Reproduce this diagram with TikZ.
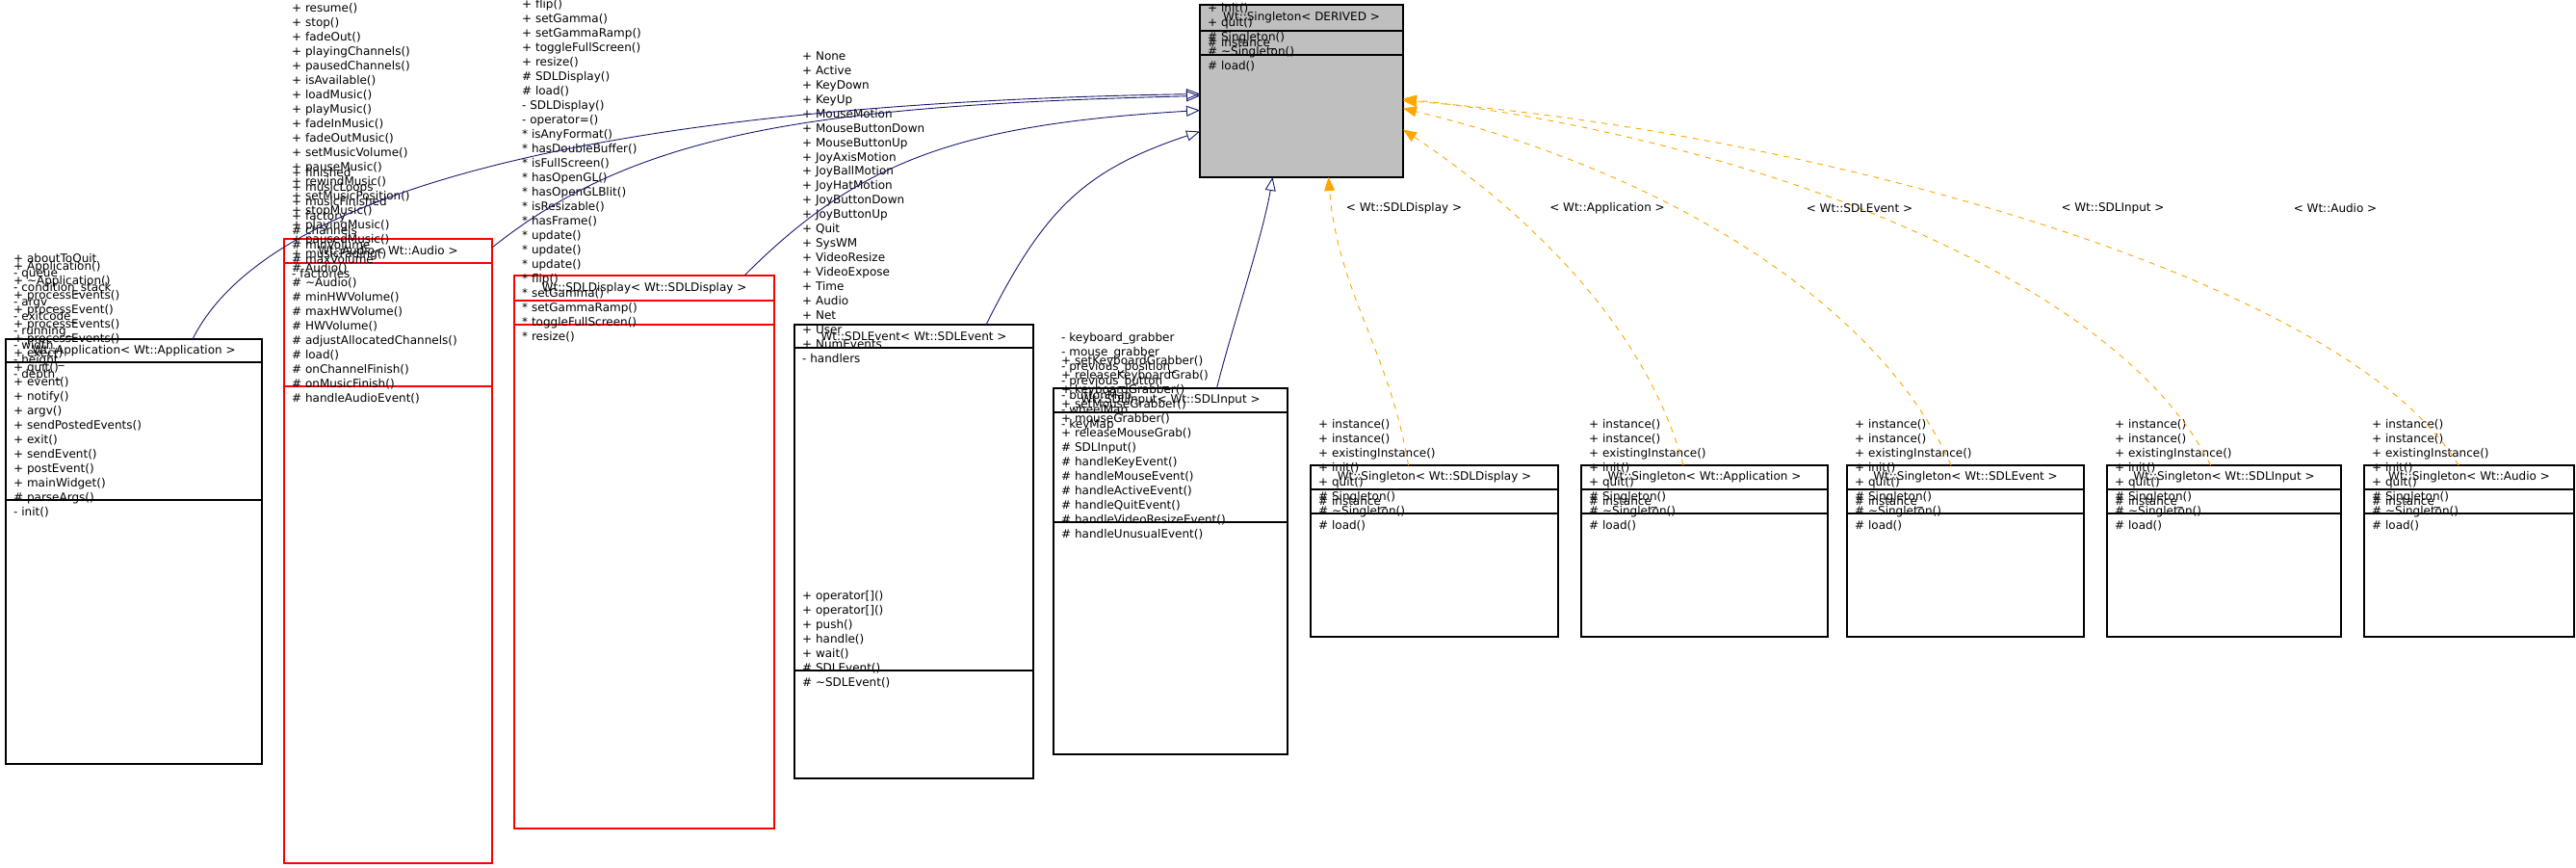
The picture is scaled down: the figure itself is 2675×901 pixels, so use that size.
\documentclass[tikz,border=0pt]{standalone}
\usepackage{fontspec}
\setmainfont{DejaVu Sans}
\usetikzlibrary{arrows.meta}
\definecolor{navyline}{HTML}{191970}
\definecolor{tplorange}{HTML}{FFA500}
\definecolor{basegray}{HTML}{BFBFBF}
\tikzset{
  umlframe/.style={draw, line width=1.2pt, inner sep=0pt, outer sep=0pt, anchor=north west},
  umltitle/.style={font=\fontsize{12}{15}\selectfont, inner sep=0pt},
  members/.style={font=\fontsize{12}{15}\selectfont, align=left, anchor=base west, inner sep=0pt},
  inherit/.style={draw=navyline, line width=0.9pt, -{Triangle[open,length=14pt,width=11pt]}},
  bindto/.style={draw=tplorange, line width=0.9pt, dash pattern=on 6pt off 6pt,
    -{Triangle[length=14pt,width=11pt,fill=tplorange]}},
  bindlabel/.style={font=\fontsize{12}{15}\selectfont, inner sep=1pt}
}
% name, left, top, width, header bottom, attribute bottom, bottom, frame style, title
\newcommand{\umlclass}[9]{
  \node[umlframe, #8, minimum width=#4*1pt, minimum height=(#7-#3)*1pt] (#1) at (#2,#3) {};
  \node[umltitle] (#1-title) at ({#2+#4/2},{(#3+#5)/2}) {#9};
  \draw[#8, line width=1.2pt] (#2,#5) -- ({#2+#4},#5);
  \draw[#8, line width=1.2pt] (#2,#6) -- ({#2+#4},#6);
}
\begin{document}
\begin{tikzpicture}[x=1pt,y=-1pt]
\useasboundingbox (0,0) rectangle (2675,901);

% base template
\umlclass{base}{1246}{5}{211}{32}{57}{184}{fill=basegray}{Wt::Singleton< DERIVED >}
\node[members] (base-attr) at (1254,49) {\# instance\_};
\node[members] (base-meth) at (1254,73) {+ instance()\\+ existingInstance()\\+ instance()\\+ init()\\+ quit()\\\# Singleton()\\\# \textasciitilde Singleton()\\\# load()};

% derived classes
\umlclass{app}{6}{352}{266}{376}{519}{793}{}{Wt::Application< Wt::Application >}
\node[members] (app-attr) at (14,392) {+ aboutToQuit\\- queue\\- condition\_stack\\- argv\_\\- exitcode\_\\- running\_\\- width\_\\- height\_\\- depth\_};
\node[members] (app-meth) at (14,535) {+ Application()\\+ \textasciitilde Application()\\+ processEvents()\\+ processEvent()\\+ processEvents()\\+ processEvents()\\+ exec()\\+ quit()\\+ event()\\+ notify()\\+ argv()\\+ sendPostedEvents()\\+ exit()\\+ sendEvent()\\+ postEvent()\\+ mainWidget()\\\# parseArgs()\\- init()};

\umlclass{audio}{295}{248}{216}{273}{401}{896}{draw=red}{Wt::Audio< Wt::Audio >}
\node[members] (audio-attr) at (303,289) {+ finished\\+ musicLoops\\+ musicFinished\\+ factory\\\# channels\\\# minVolume\\\# maxVolume\\- factories};
\node[members] (audio-meth) at (303,417) {+ loadChunk()\\+ numChannels()\\+ operator[]()\\+ allocateChannels()\\+ pause()\\+ resume()\\+ stop()\\+ fadeOut()\\+ playingChannels()\\+ pausedChannels()\\+ isAvailable()\\+ loadMusic()\\+ playMusic()\\+ fadeInMusic()\\+ fadeOutMusic()\\+ setMusicVolume()\\+ pauseMusic()\\+ rewindMusic()\\+ setMusicPosition()\\+ stopMusic()\\+ playingMusic()\\+ pausedMusic()\\+ musicFading()\\\# Audio()\\\# \textasciitilde Audio()\\\# minHWVolume()\\\# maxHWVolume()\\\# HWVolume()\\\# adjustAllocatedChannels()\\\# load()\\\# onChannelFinish()\\\# onMusicFinish()\\\# handleAudioEvent()};

\umlclass{display}{534}{286}{270}{312}{337}{860}{draw=red}{Wt::SDLDisplay< Wt::SDLDisplay >}
\node[members] (display-meth) at (542,353) {+ SDLDisplay()\\+ isAnyFormat()\\+ hasDoubleBuffer()\\+ isFullScreen()\\+ hasOpenGL()\\+ hasOpenGLBlit()\\+ isResizable()\\+ hasFrame()\\+ update()\\+ update()\\+ update()\\+ flip()\\+ setGamma()\\+ setGammaRamp()\\+ toggleFullScreen()\\+ resize()\\\# SDLDisplay()\\\# load()\\- SDLDisplay()\\- operator=()\\* isAnyFormat()\\* hasDoubleBuffer()\\* isFullScreen()\\* hasOpenGL()\\* hasOpenGLBlit()\\* isResizable()\\* hasFrame()\\* update()\\* update()\\* update()\\* flip()\\* setGamma()\\* setGammaRamp()\\* toggleFullScreen()\\* resize()};

\umlclass{event}{825}{337}{248}{361}{696}{808}{}{Wt::SDLEvent< Wt::SDLEvent >}
\node[members] (event-attr) at (833,377) {+ None\\+ Active\\+ KeyDown\\+ KeyUp\\+ MouseMotion\\+ MouseButtonDown\\+ MouseButtonUp\\+ JoyAxisMotion\\+ JoyBallMotion\\+ JoyHatMotion\\+ JoyButtonDown\\+ JoyButtonUp\\+ Quit\\+ SysWM\\+ VideoResize\\+ VideoExpose\\+ Time\\+ Audio\\+ Net\\+ User\\+ NumEvents\\- handlers};
\node[members] (event-meth) at (833,712) {+ operator[]()\\+ operator[]()\\+ push()\\+ handle()\\+ wait()\\\# SDLEvent()\\\# \textasciitilde SDLEvent()};

\umlclass{input}{1094}{403}{243}{428}{542}{783}{}{Wt::SDLInput< Wt::SDLInput >}
\node[members] (input-attr) at (1102,444) {- keyboard\_grabber\\- mouse\_grabber\\- previous\_position\_\\- previous\_button\_\\- buttonMap\\- wheelMap\\- keyMap};
\node[members] (input-meth) at (1102,558) {+ setKeyboardGrabber()\\+ releaseKeyboardGrab()\\+ keyboardGrabber()\\+ setMouseGrabber()\\+ mouseGrabber()\\+ releaseMouseGrab()\\\# SDLInput()\\\# handleKeyEvent()\\\# handleMouseEvent()\\\# handleActiveEvent()\\\# handleQuitEvent()\\\# handleVideoResizeEvent()\\\# handleUnusualEvent()};

% template instances
\foreach \nm/\xl/\bw/\cls in {sdisplay/1361/257/SDLDisplay, sapp/1642/256/Application,
    sevent/1918/246/SDLEvent, sinput/2188/243/SDLInput, saudio/2455/218/Audio} {
  \umlclass{\nm}{\xl}{483}{\bw}{508}{533}{661}{}{Wt::Singleton< Wt::\cls\ >}
  \node[members] (\nm-attr) at (\xl+8,524) {\# instance\_};
  \node[members] (\nm-meth) at (\xl+8,549) {+ instance()\\+ instance()\\+ existingInstance()\\+ init()\\+ quit()\\\# Singleton()\\\# \textasciitilde Singleton()\\\# load()};
}

% inheritance
\draw[inherit] ([xshift=61pt]app.north) .. controls +(80,-160) and +(-600,10) .. ([yshift=-3pt]base.west);
\draw[inherit] ([yshift=-9pt]audio.north east) .. controls +(150,-120) and +(-400,10) .. ([yshift=-5pt]base.west);
\draw[inherit] ([xshift=104pt]display.north) .. controls +(120,-120) and +(-250,15) .. ([yshift=-20pt]base.west);
\draw[inherit] ([xshift=75pt]event.north) .. controls +(60,-120) and +(-120,40) .. ([yshift=-42pt]base.west);
\draw[inherit] ([xshift=48pt]input.north) .. controls +(15,-60) and +(-10,60) .. ([xshift=-30pt]base.south);

% template bindings
\draw[bindto] ([xshift=-27pt]sdisplay.north) .. controls +(-20,-120) and +(10,120) .. ([xshift=28pt]base.south);
\draw[bindto] ([xshift=-22pt]sapp.north) .. controls +(-40,-150) and +(120,80) .. ([yshift=-40pt]base.east);
\draw[bindto] ([xshift=-15pt]sevent.north) .. controls +(-80,-180) and +(250,60) .. ([yshift=-18pt]base.east);
\draw[bindto] ([xshift=-14pt]sinput.north) .. controls +(-100,-200) and +(350,40) .. ([yshift=-8pt]base.east);
\draw[bindto] ([xshift=-11pt]saudio.north) .. controls +(-120,-200) and +(400,30) .. ([yshift=-10pt]base.east);
\node[bindlabel] (lbl-display) at (1458,216) {< Wt::SDLDisplay >};
\node[bindlabel] (lbl-app) at (1669,216) {< Wt::Application >};
\node[bindlabel] (lbl-event) at (1931,216) {< Wt::SDLEvent >};
\node[bindlabel] (lbl-input) at (2194,216) {< Wt::SDLInput >};
\node[bindlabel] (lbl-audio) at (2425,216) {< Wt::Audio >};
\end{tikzpicture}
\end{document}
